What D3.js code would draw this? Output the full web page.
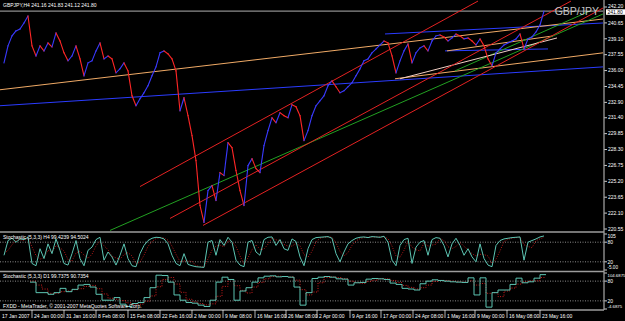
<!DOCTYPE html>
<html>
<head>
<meta charset="utf-8">
<script src="https://cdn.jsdelivr.net/npm/d3@7"></script>
<style>
  body { margin: 0; background: #000; }
  svg { display: block; font-family: "Liberation Sans", Arial, sans-serif; }
</style>
</head>
<body>
<div class="canvas"></div>
<script>
// GBPJPY H4 closes, sampled every 4 bars
const closes = [236.75, 238.41, 239.38, 239.87, 240.06, 240.64, 241.32, 238.41, 237.43, 238.41,
  237.92, 238.70, 238.31, 239.67, 238.89, 237.73, 236.95, 237.43, 238.41, 237.14,
  235.49, 236.75, 236.95, 237.92, 238.70, 237.14, 237.43, 237.14, 235.78, 236.17,
  236.75, 235.97, 233.54, 232.57, 233.25, 233.83, 234.52, 235.49, 236.36, 237.73,
  237.92, 237.63, 237.14, 235.97, 232.08, 233.35, 231.60, 229.65, 227.22, 222.84,
  221.19, 224.30, 224.79, 223.33, 226.05, 225.76, 228.97, 228.48, 226.25, 224.30,
  222.84, 226.73, 227.41, 226.44, 226.05, 228.68, 230.14, 231.40, 230.92, 231.89,
  231.60, 231.40, 232.67, 232.47, 231.60, 229.17, 230.14, 231.60, 232.57, 233.06,
  233.54, 234.52, 235.00, 234.42, 233.83, 234.03, 234.42, 234.81, 235.49, 236.17,
  236.95, 237.14, 237.73, 238.11, 238.50, 238.89, 238.70, 237.43, 235.78, 236.95,
  237.92, 238.60, 236.75, 237.73, 238.21, 238.41, 237.92, 238.89, 239.38, 239.48,
  239.28, 238.89, 239.18, 239.57, 239.38, 239.09, 239.18, 238.89, 238.50, 239.09,
  238.41, 237.14, 236.46, 237.73, 238.11, 238.50, 238.70, 238.89, 239.09, 239.57,
  238.11, 239.09, 239.28, 239.77, 240.45, 241.80];

const stochH4Main = [40, 85, 92, 80, 90, 88, 95, 15, 8, 60,
  30, 75, 45, 90, 55, 15, 10, 45, 85, 30,
  8, 55, 65, 88, 95, 25, 50, 35, 10, 40,
  75, 30, 8, 5, 45, 70, 85, 92, 95, 94,
  90, 75, 40, 15, 8, 45, 12, 8, 5, 4,
  3, 80, 85, 40, 88, 70, 95, 80, 25, 10,
  5, 80, 85, 50, 40, 88, 95, 96, 70, 88,
  60, 55, 90, 82, 35, 8, 60, 88, 94, 95,
  96, 97, 92, 45, 20, 50, 75, 85, 92, 95,
  96, 94, 97, 96, 95, 98, 80, 25, 8, 70,
  88, 92, 15, 65, 80, 85, 40, 88, 94, 92,
  70, 35, 75, 92, 70, 40, 60, 35, 20, 75,
  30, 10, 5, 70, 85, 90, 92, 94, 95, 96,
  25, 80, 85, 90, 96, 99];

const stochH4Signal = [45, 55, 72, 86, 87, 86, 91, 66, 39, 28,
  33, 55, 50, 70, 63, 53, 27, 23, 47, 53,
  41, 31, 43, 69, 83, 69, 57, 37, 32, 28,
  42, 48, 38, 14, 19, 40, 67, 82, 91, 94,
  93, 86, 68, 43, 21, 23, 22, 22, 8, 6,
  4, 29, 56, 68, 71, 66, 84, 82, 67, 38,
  13, 32, 57, 72, 58, 59, 74, 93, 87, 85,
  73, 68, 68, 76, 69, 42, 34, 52, 81, 92,
  95, 96, 95, 78, 52, 38, 48, 70, 84, 91,
  94, 95, 96, 96, 96, 96, 91, 68, 38, 34,
  55, 83, 65, 57, 53, 77, 68, 71, 74, 91,
  85, 66, 60, 67, 79, 67, 57, 45, 38, 43,
  42, 38, 15, 28, 53, 82, 89, 92, 94, 95,
  72, 67, 63, 85, 90, 95];

// daily stochastic, one value per trading day
const stochD1Main = [77, 45, 45, 40, 45, 58, 48, 55, 68, 70,
  62, 40, 22, 22, 30, 10, 3, 12, 15, 30,
  60, 98, 97, 77, 38, 22, 15, 13, 7, 3,
  22, 77, 92, 85, 22, 50, 60, 77, 90, 95,
  96, 93, 94, 92, 62, 7, 45, 88, 92, 94,
  92, 87, 86, 68, 75, 76, 86, 88, 87, 85,
  74, 70, 58, 56, 53, 72, 80, 84, 82, 80,
  78, 77, 76, 90, 38, 90, 1, 45, 53, 53,
  70, 89, 75, 78, 89, 99.7];

const stochD1Signal = [80, 68, 56, 43, 43, 48, 50, 54, 57, 64,
  67, 57, 41, 28, 25, 21, 14, 8, 10, 19,
  35, 63, 85, 91, 71, 46, 25, 17, 12, 8,
  11, 34, 64, 85, 66, 52, 44, 62, 76, 87,
  94, 95, 94, 93, 83, 54, 38, 47, 75, 91,
  93, 91, 88, 80, 76, 73, 79, 83, 87, 87,
  82, 76, 67, 61, 56, 60, 68, 79, 82, 82,
  80, 78, 77, 81, 68, 73, 43, 45, 33, 50,
  59, 71, 78, 81, 81, 91];

const priceTicks = [242.20, 240.65, 239.10, 237.55, 236.00, 234.45, 232.90, 231.40,
  229.85, 228.30, 226.75, 225.20, 223.65, 222.10, 220.55];

const timeLabels = ["17 Jan 2007", "24 Jan 00:00", "31 Jan 16:00", "8 Feb 08:00", "15 Feb 08:00",
  "22 Feb 16:00", "2 Mar 00:00", "9 Mar 08:00", "16 Mar 16:00", "26 Mar 08:00", "2 Apr 00:00",
  "9 Apr 16:00", "17 Apr 00:00", "24 Apr 08:00", "1 May 16:00", "9 May 00:00", "16 May 08:00",
  "23 May 16:00"];
const timeBars = [0, 32, 64, 96, 128, 160, 192, 223, 255, 286, 317, 350, 381, 413, 445, 475, 507, 540];

// trend lines: [bar1, price1, bar2, price2]
const redLines = [[140, 224.69, 478, 242.78], [170, 221.58, 571, 242.78], [203, 220.90, 603, 242.10]];
const blueLines = [[0, 232.57, 603, 236.36], [385, 239.57, 603, 240.64], [445, 237.92, 548, 238.11]];
const orangeLines = [[0, 234.13, 603, 241.03], [447, 237.92, 553, 239.38], [395, 235.20, 603, 237.73]];
const greenLines = [[110, 220.41, 603, 241.52], [455, 235.97, 590, 241.81]];
const paleLines = [[400, 235.20, 557, 239.18]];

const bid = 241.80;

const W = 625, H = 321, axisX = 604;

const svg = d3.select('.canvas')
    .append('svg')
    .attr('width', W)
    .attr('height', H);

svg.append('rect').attr('width', W).attr('height', H).attr('fill', '#000');

const x = d3.scaleLinear().domain([0, 603]).range([0, 603]);
const y = d3.scaleLinear().domain([220.55, 242.20]).range([229, 7]);
const yS1 = d3.scaleLinear().domain([-5, 105]).range([270, 234]);
const yS2 = d3.scaleLinear().domain([-4.6875, 104.6875]).range([309, 273]);

const closeBar = i => 4 + 4 * i;
const dayBar = i => 30 + 6 * i;

const defs = svg.append('defs');
defs.append('clipPath').attr('id', 'mainClip')
    .append('rect').attr('x', 0).attr('y', 0).attr('width', 603).attr('height', 231);

const main = svg.append('g').attr('clip-path', 'url(#mainClip)');

// bid line
main.append('line')
    .attr('x1', 0).attr('x2', axisX)
    .attr('y1', y(bid)).attr('y2', y(bid))
    .attr('stroke', '#b0b0b0').attr('stroke-width', 1);

const drawLines = (data, colour) => {
    main.append('g').selectAll('line')
        .data(data)
        .enter()
        .append('line')
        .attr('x1', d => x(d[0])).attr('y1', d => y(d[1]))
        .attr('x2', d => x(d[2])).attr('y2', d => y(d[3]))
        .attr('stroke', colour)
        .attr('stroke-width', 1);
};

drawLines(blueLines, '#2b3cff');
drawLines(orangeLines, '#f0aa66');
drawLines(greenLines, '#22a022');
drawLines(paleLines, '#f2cfc4');
drawLines(redLines, '#e42222');

// price path, blue when rising, red when falling
const segs = closes.slice(1).map((c, i) => ({ p0: closes[i], p1: c, b0: closeBar(i), b1: closeBar(i + 1) }));
main.append('g').selectAll('line')
    .data(segs)
    .enter()
    .append('line')
    .attr('x1', d => x(d.b0)).attr('y1', d => y(d.p0))
    .attr('x2', d => x(d.b1)).attr('y2', d => y(d.p1))
    .attr('stroke', d => d.p1 >= d.p0 ? '#3a3aff' : '#ff2626')
    .attr('stroke-width', 1.1)
    .attr('stroke-linecap', 'square');

// GBP/JPY watermark
svg.append('text')
    .attr('x', 599).attr('y', 15)
    .attr('text-anchor', 'end')
    .attr('font-size', 10.5)
    .attr('fill', '#c4c4c4')
    .text('GBP/JPY');

// header
svg.append('text')
    .attr('x', 3).attr('y', 7)
    .attr('font-size', 5).attr('fill', '#fff')
    .text('GBPJPY,H4 241.16 241.83 241.12 241.80');

// price axis
const priceAxis = svg.append('g');
priceAxis.selectAll('line')
    .data(priceTicks).enter().append('line')
    .attr('x1', axisX).attr('x2', axisX + 3)
    .attr('y1', d => y(d)).attr('y2', d => y(d))
    .attr('stroke', '#fff').attr('stroke-width', 0.8);
priceAxis.selectAll('text')
    .data(priceTicks).enter().append('text')
    .attr('x', axisX + 4).attr('y', d => y(d))
    .attr('dy', d => d === priceTicks[0] ? '0.1em' : '0.35em')
    .attr('font-size', 5).attr('fill', '#fff')
    .text(d => d.toFixed(2));

// bid box
svg.append('rect')
    .attr('x', axisX + 2).attr('y', y(bid) - 1.8)
    .attr('width', 19).attr('height', 5.5)
    .attr('fill', '#fff');
svg.append('text')
    .attr('x', axisX + 3.5).attr('y', y(bid) + 0.95)
    .attr('dy', '0.35em')
    .attr('font-size', 5).attr('fill', '#000')
    .text(bid.toFixed(2));

// indicator panels
const levelLines = (scale, levels) => {
    svg.append('g').selectAll('line')
        .data(levels).enter().append('line')
        .attr('x1', 0).attr('x2', axisX)
        .attr('y1', d => scale(d)).attr('y2', d => scale(d))
        .attr('stroke', '#c8c8c8').attr('stroke-width', 0.7)
        .attr('stroke-dasharray', '1,1.5');
};
levelLines(yS1, [80, 20]);
levelLines(yS2, [80, 20]);

const h4Line = d3.line().x((d, i) => x(closeBar(i))).y(d => yS1(d));
svg.append('path').attr('d', h4Line(stochH4Signal))
    .attr('fill', 'none').attr('stroke', '#e02020').attr('stroke-width', 0.8)
    .attr('stroke-dasharray', '1,1.5');
svg.append('path').attr('d', h4Line(stochH4Main))
    .attr('fill', 'none').attr('stroke', '#5cc4b2').attr('stroke-width', 1);

const d1Line = d3.line().curve(d3.curveStepAfter).x(d => x(d[0])).y(d => yS2(d[1]));
const stepPts = arr => arr.map((v, i) => [dayBar(i), v]).concat([[dayBar(arr.length - 1) + 6, arr[arr.length - 1]]]);
svg.append('path').attr('d', d1Line(stepPts(stochD1Signal)))
    .attr('fill', 'none').attr('stroke', '#e02020').attr('stroke-width', 0.9)
    .attr('stroke-dasharray', '1,1.5');
svg.append('path').attr('d', d1Line(stepPts(stochD1Main)))
    .attr('fill', 'none').attr('stroke', '#5cc4b2').attr('stroke-width', 1);

// panel scale labels: [value, text, label y offset]
const panelLabels = (scale, ticks, labels, shifts, size) => {
    const g = svg.append('g');
    g.selectAll('line').data(ticks).enter().append('line')
        .attr('x1', axisX).attr('x2', axisX + 3)
        .attr('y1', d => scale(d)).attr('y2', d => scale(d))
        .attr('stroke', '#fff').attr('stroke-width', 0.8);
    g.selectAll('text').data(ticks).enter().append('text')
        .attr('x', axisX + 3.5).attr('y', (d, i) => scale(d) + shifts[i])
        .attr('dy', '0.35em')
        .attr('font-size', (d, i) => size[i]).attr('fill', '#fff')
        .text((d, i) => labels[i]);
};
panelLabels(yS1, [105, 80, 20, -5], ['105', '80', '20', '-5.00'], [2, 0, 0, -2.2], [5, 5, 5, 4.6]);
panelLabels(yS2, [104.6875, 80, 20, -4.6875], ['104.6875', '80', '20', '-4.6875'], [2.4, 0, 0, -2.4], [4.3, 5, 5, 4.3]);

svg.append('text').attr('x', 3).attr('y', 239)
    .attr('font-size', 5).attr('fill', '#fff')
    .text('Stochastic (5,3,3) H4 99.4239 94.5024');
svg.append('text').attr('x', 3).attr('y', 278)
    .attr('font-size', 5).attr('fill', '#fff')
    .text('Stochastic (5,3,3) D1 99.7375 90.7354');
svg.append('text').attr('x', 3).attr('y', 308)
    .attr('font-size', 5).attr('fill', '#fff')
    .text('FXDD - MetaTrader, \u00a9 2001-2007 MetaQuotes Software Corp.');

// frame lines
const frame = [[0, 232, axisX, 232], [0, 271.5, axisX, 271.5], [0, 310, axisX, 310], [axisX, 0, axisX, 310]];
svg.append('g').selectAll('line')
    .data(frame).enter().append('line')
    .attr('x1', d => d[0]).attr('y1', d => d[1])
    .attr('x2', d => d[2]).attr('y2', d => d[3])
    .attr('stroke', '#9c9c9c').attr('stroke-width', 1.3);

// time axis
const timeAxis = svg.append('g');
timeAxis.selectAll('line')
    .data(timeBars.slice(1)).enter().append('line')
    .attr('x1', d => x(d)).attr('x2', d => x(d))
    .attr('y1', 310).attr('y2', 318)
    .attr('stroke', '#fff').attr('stroke-width', 0.7);
timeAxis.selectAll('text')
    .data(timeLabels).enter().append('text')
    .attr('x', (d, i) => x(timeBars[i]) + 2)
    .attr('y', 318)
    .attr('font-size', 5).attr('fill', '#fff')
    .text(d => d);
</script>
</body>
</html>
